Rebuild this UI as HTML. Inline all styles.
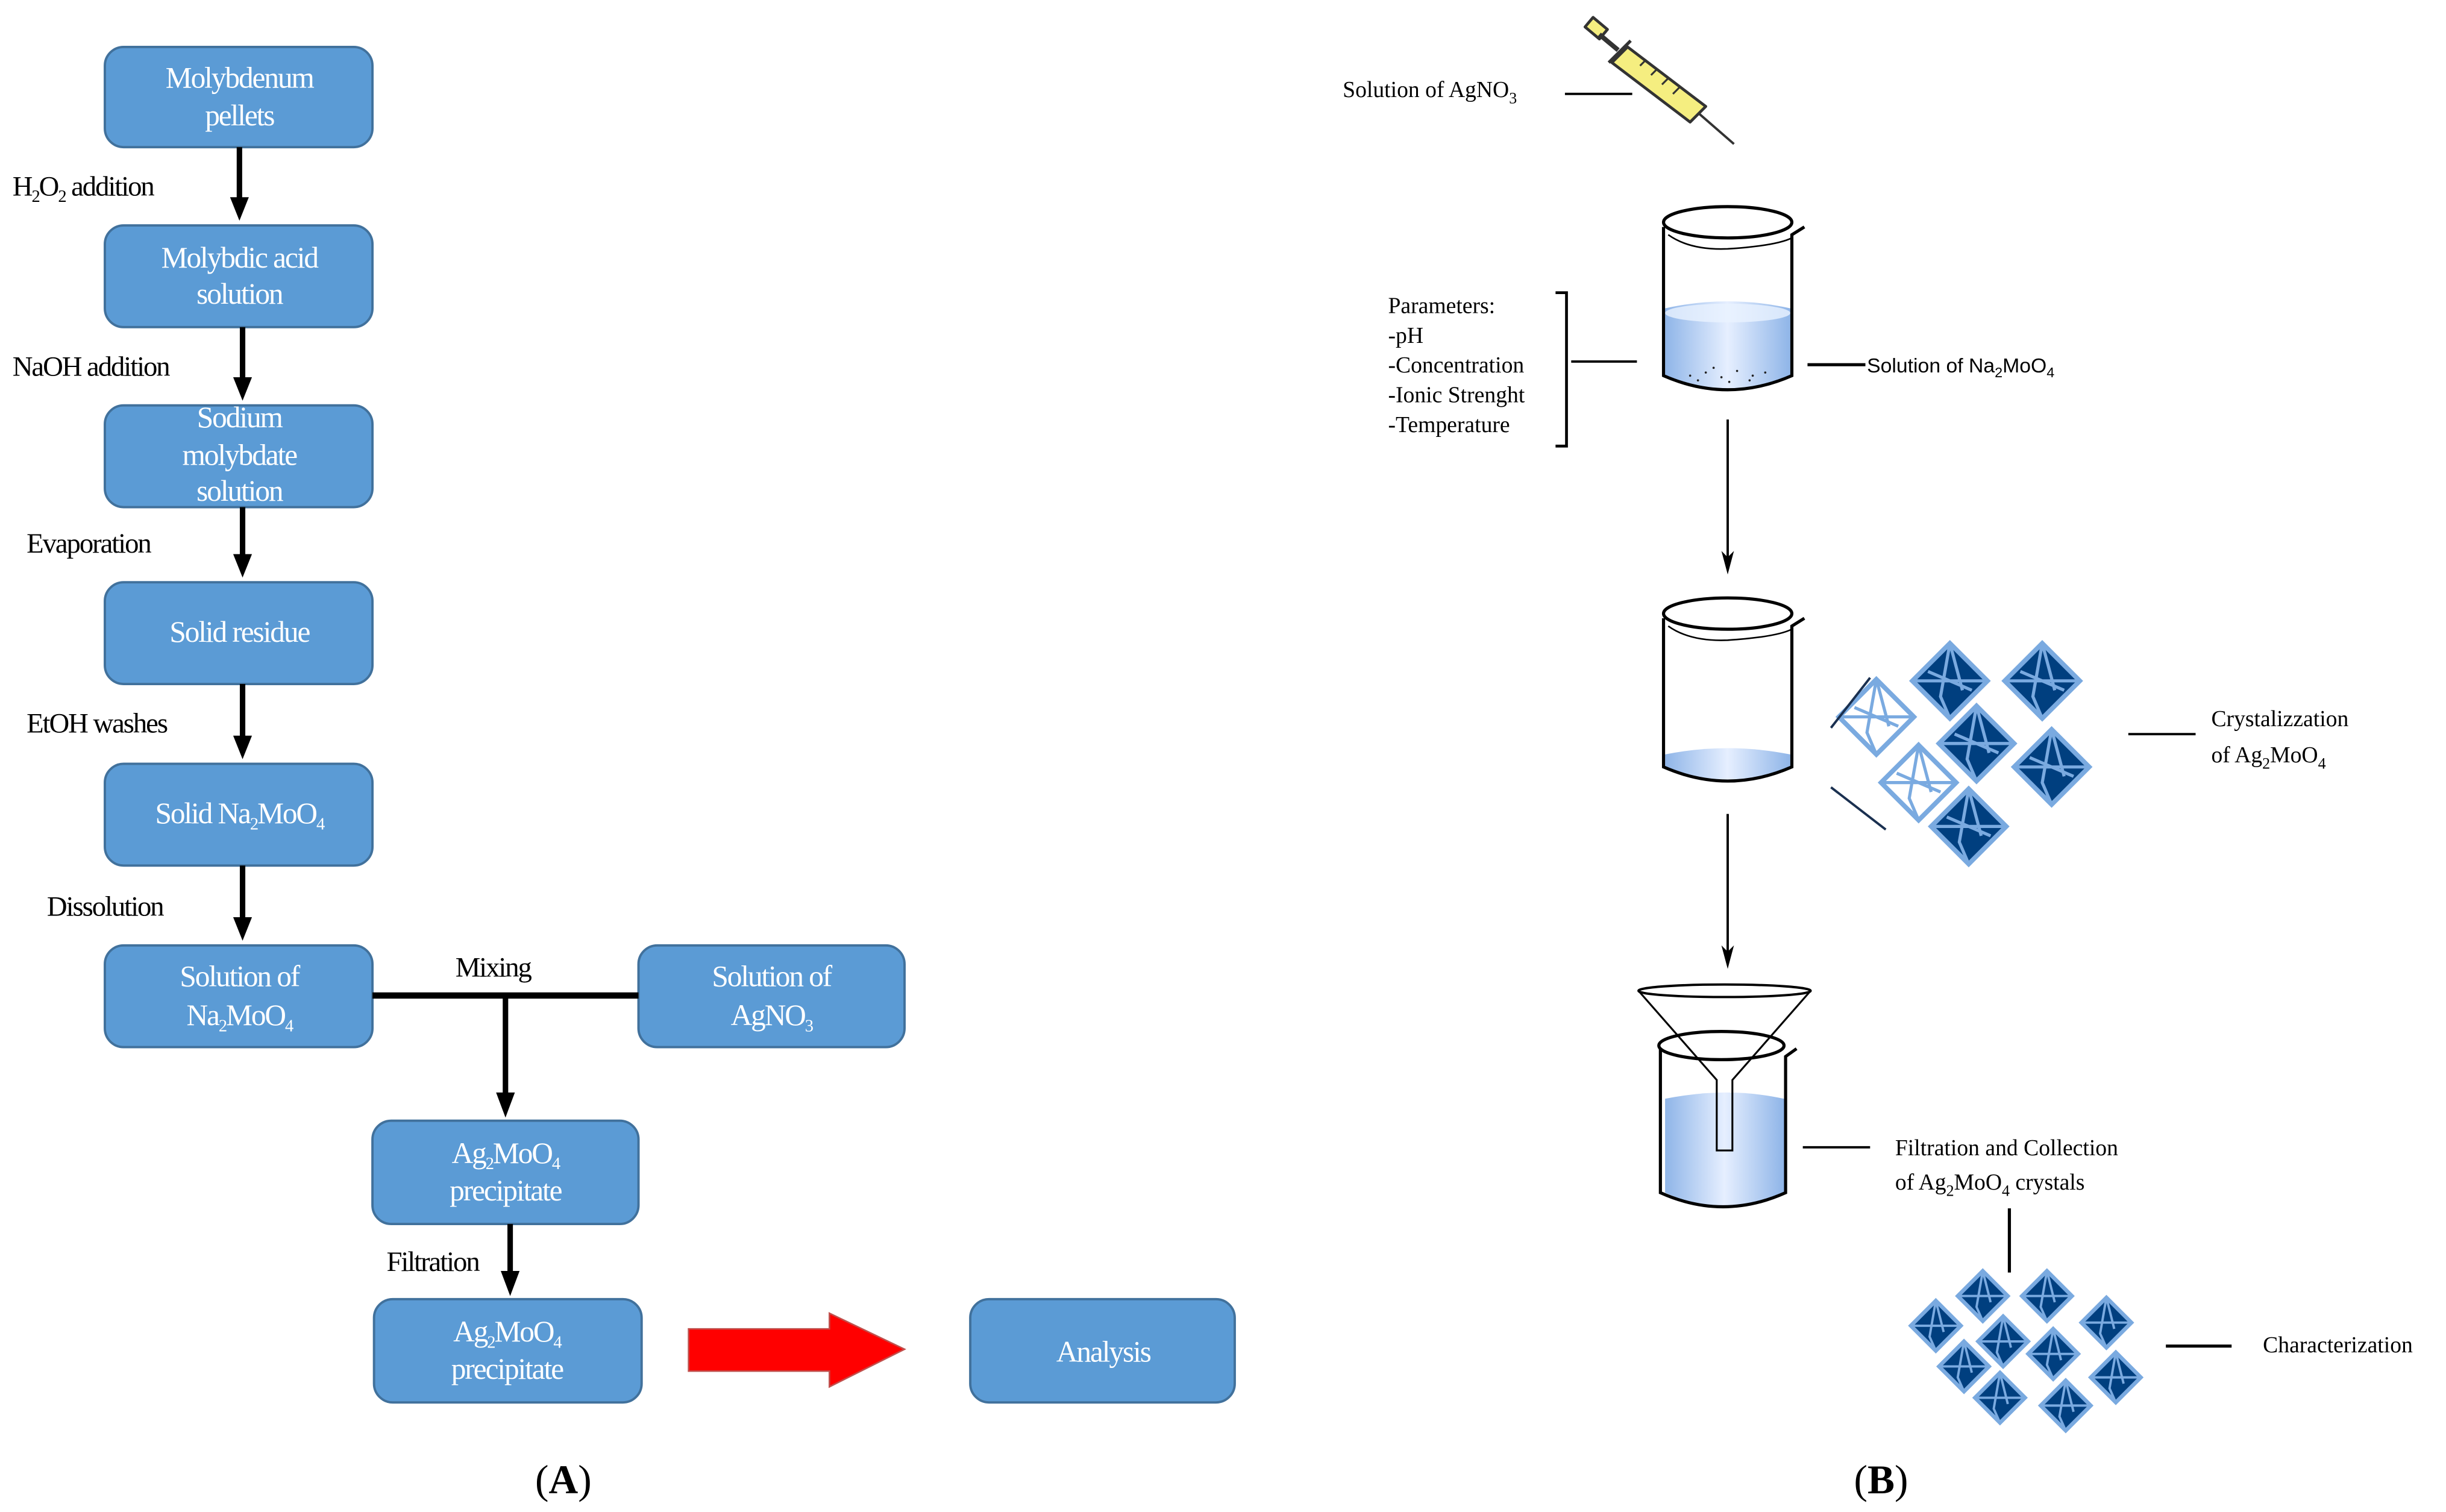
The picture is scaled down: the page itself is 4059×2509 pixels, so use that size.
<!DOCTYPE html>
<html><head><meta charset="utf-8"><style>
html,body{margin:0;padding:0;background:#fff;}
svg{display:block;}
.bt{font-family:"Liberation Serif",serif;font-size:19px;fill:#fff;text-anchor:middle;letter-spacing:-0.8px;}
.lb{font-family:"Liberation Serif",serif;font-size:18px;fill:#000;letter-spacing:-0.8px;}
.rt{font-family:"Liberation Serif",serif;font-size:14.5px;fill:#000;}
.st{font-family:"Liberation Sans",sans-serif;font-size:13px;fill:#000;}
</style></head><body>
<svg width="4059" height="2509" viewBox="0 0 1563 966" preserveAspectRatio="none" xmlns="http://www.w3.org/2000/svg">
<defs>
<linearGradient id="liq" x1="0" y1="0" x2="1" y2="0"><stop offset="0" stop-color="#8fb5e8"/><stop offset="0.5" stop-color="#e6efff"/><stop offset="1" stop-color="#8fb5e8"/></linearGradient>
<g id="cd"><polygon points="0,-24 24,0 0,24 -24,0" fill="#003f7f" stroke="#7aaae0" stroke-width="3"/><path d="M-24,0 L24,0 M0,-24 L-6,10 L0,24 M0,-24 L8,6 M-14,-6 L14,6" stroke="#7aaae0" stroke-width="2" fill="none"/></g>
<g id="cl"><polygon points="0,-24 24,0 0,24 -24,0" fill="#fff" stroke="#7aaae0" stroke-width="3"/><path d="M-24,0 L24,0 M0,-24 L-6,10 L0,24 M0,-24 L8,6 M-14,-6 L14,6" stroke="#7aaae0" stroke-width="2" fill="none"/></g>
<g id="cs"><polygon points="0,-16 16,0 0,16 -16,0" fill="#003f7f" stroke="#7aaae0" stroke-width="2.5"/><path d="M-16,0 L16,0 M0,-16 L-4,7 L0,16 M0,-16 L5,4" stroke="#7aaae0" stroke-width="1.5" fill="none"/></g>
</defs>

<!-- (A) flowchart -->
<g fill="#5b9bd5" stroke="#41719c" stroke-width="1.5">
<rect x="67" y="30" width="171" height="64" rx="12"/>
<rect x="67" y="144" width="171" height="65" rx="12"/>
<rect x="67" y="259" width="171" height="65" rx="12"/>
<rect x="67" y="372" width="171" height="65" rx="12"/>
<rect x="67" y="488" width="171" height="65" rx="12"/>
<rect x="67" y="604" width="171" height="65" rx="12"/>
<rect x="408" y="604" width="170" height="65" rx="12"/>
<rect x="238" y="716" width="170" height="66" rx="12"/>
<rect x="239" y="830" width="171" height="66" rx="12"/>
<rect x="620" y="830" width="169" height="66" rx="12"/>
</g>
<text class="bt" x="153" y="56">Molybdenum</text><text class="bt" x="153" y="80">pellets</text>
<text class="bt" x="153" y="171">Molybdic acid</text><text class="bt" x="153" y="194">solution</text>
<text class="bt" x="153" y="273">Sodium</text><text class="bt" x="153" y="297">molybdate</text><text class="bt" x="153" y="320">solution</text>
<text class="bt" x="153" y="410">Solid residue</text>
<text class="bt" x="153" y="526">Solid Na<tspan font-size="11" dy="4">2</tspan><tspan dy="-4">MoO</tspan><tspan font-size="11" dy="4">4</tspan></text>
<text class="bt" x="153" y="630">Solution of</text><text class="bt" x="153" y="655">Na<tspan font-size="11" dy="4">2</tspan><tspan dy="-4">MoO</tspan><tspan font-size="11" dy="4">4</tspan></text>
<text class="bt" x="493" y="630">Solution of</text><text class="bt" x="493" y="655">AgNO<tspan font-size="11" dy="4">3</tspan></text>
<text class="bt" x="323" y="743">Ag<tspan font-size="11" dy="4">2</tspan><tspan dy="-4">MoO</tspan><tspan font-size="11" dy="4">4</tspan></text><text class="bt" x="323" y="767">precipitate</text>
<text class="bt" x="324" y="857">Ag<tspan font-size="11" dy="4">2</tspan><tspan dy="-4">MoO</tspan><tspan font-size="11" dy="4">4</tspan></text><text class="bt" x="324" y="881">precipitate</text>
<text class="bt" x="705" y="870">Analysis</text>

<g stroke="#000" stroke-width="3.5" fill="none">
<line x1="153" y1="94" x2="153" y2="128"/>
<line x1="155" y1="209" x2="155" y2="243"/>
<line x1="155" y1="324" x2="155" y2="356"/>
<line x1="155" y1="437" x2="155" y2="472"/>
<line x1="155" y1="553" x2="155" y2="588"/>
<line x1="238" y1="636" x2="408" y2="636" stroke-width="4"/>
<line x1="323" y1="636" x2="323" y2="700"/>
<line x1="326" y1="782" x2="326" y2="814"/>
</g>
<g fill="#000">
<polygon points="147,126 159,126 153,141"/>
<polygon points="149,241 161,241 155,256"/>
<polygon points="149,354 161,354 155,369"/>
<polygon points="149,470 161,470 155,485"/>
<polygon points="149,586 161,586 155,601"/>
<polygon points="317,698 329,698 323,714"/>
<polygon points="320,812 332,812 326,828"/>
</g>
<polygon points="440,849 530,849 530,839 578,862 530,886 530,876 440,876" fill="#ff0000" stroke="#c0504d" stroke-width="1"/>

<text class="lb" x="8" y="125">H<tspan font-size="11" dy="4">2</tspan><tspan dy="-4">O</tspan><tspan font-size="11" dy="4">2</tspan><tspan dy="-4"> addition</tspan></text>
<text class="lb" x="8" y="240">NaOH addition</text>
<text class="lb" x="17" y="353">Evaporation</text>
<text class="lb" x="17" y="468">EtOH washes</text>
<text class="lb" x="30" y="585">Dissolution</text>
<text class="lb" x="291" y="624">Mixing</text>
<text class="lb" x="247" y="812">Filtration</text>

<text x="360" y="954" font-family="Liberation Serif,serif" font-size="26" text-anchor="middle">(<tspan font-weight="bold">A</tspan>)</text>
<text x="1202" y="954" font-family="Liberation Serif,serif" font-size="26" text-anchor="middle">(<tspan font-weight="bold">B</tspan>)</text>

<!-- (B) -->
<g stroke="#333" stroke-width="1.8" stroke-linejoin="round">
<line x1="1085" y1="72" x2="1108" y2="92" stroke-width="1.5"/>
<polygon points="1040,30 1090,68 1080,78 1030,40" fill="#f5ee80"/>
<rect x="1014" y="14" width="12" height="8" transform="rotate(40 1020 18)" fill="#f5ee80"/>
<line x1="1022" y1="22" x2="1034" y2="32" stroke-width="3"/>
<line x1="1028" y1="40" x2="1042" y2="26" stroke-width="2"/>
</g>
<g stroke="#333" stroke-width="1.2"><line x1="1048" y1="42" x2="1052" y2="38"/><line x1="1055" y1="48" x2="1059" y2="44"/><line x1="1062" y1="54" x2="1066" y2="50"/><line x1="1069" y1="60" x2="1073" y2="56"/></g>
<text class="rt" x="858" y="62">Solution of AgNO<tspan font-size="10" dy="4">3</tspan></text>
<line x1="1000" y1="60" x2="1043" y2="60" stroke="#000" stroke-width="1.5"/>

<!-- beaker 1 -->
<path d="M1064,197 L1064,240 Q1104,258 1144,240 L1144,197 Q1104,188 1064,197 Z" fill="url(#liq)"/>
<ellipse cx="1104" cy="200" rx="40" ry="6" fill="#eaf2ff" opacity="0.8"/>
<g fill="#222"><circle cx="1080" cy="240" r="0.7"/><circle cx="1090" cy="238" r="0.7"/><circle cx="1100" cy="241" r="0.7"/><circle cx="1110" cy="237" r="0.7"/><circle cx="1120" cy="240" r="0.7"/><circle cx="1128" cy="238" r="0.7"/><circle cx="1085" cy="243" r="0.7"/><circle cx="1105" cy="244" r="0.7"/><circle cx="1118" cy="243" r="0.7"/><circle cx="1095" cy="235" r="0.7"/></g>
<g fill="none" stroke="#000" stroke-width="2">
<path d="M1063,145 L1063,240 Q1104,258 1145,240 L1145,150 L1153,145"/>
<ellipse cx="1104" cy="142" rx="41" ry="10"/>
<path d="M1066,150 Q1080,160 1104,159 Q1135,157 1145,152" stroke-width="1"/>
</g>
<text class="rt" x="887" y="200">Parameters:</text>
<text class="rt" x="887" y="219">-pH</text>
<text class="rt" x="887" y="238">-Concentration</text>
<text class="rt" x="887" y="257">-Ionic Strenght</text>
<text class="rt" x="887" y="276">-Temperature</text>
<path d="M994,187 L1001,187 L1001,285 L994,285" fill="none" stroke="#000" stroke-width="1.8"/>
<line x1="1004" y1="231" x2="1046" y2="231" stroke="#000" stroke-width="1.5"/>
<line x1="1155" y1="233" x2="1192" y2="233" stroke="#000" stroke-width="2"/>
<text class="st" x="1193" y="238">Solution of Na<tspan font-size="9" dy="3">2</tspan><tspan dy="-3">MoO</tspan><tspan font-size="9" dy="3">4</tspan></text>
<line x1="1104" y1="268" x2="1104" y2="356" stroke="#000" stroke-width="1.5"/>
<polygon points="1100,352 1104,356 1108,352 1104,367" fill="#000"/>

<!-- beaker 2 -->
<path d="M1064,482 L1064,490 Q1104,506 1144,490 L1144,482 Q1104,474 1064,482 Z" fill="url(#liq)"/>
<g fill="none" stroke="#000" stroke-width="2">
<path d="M1063,395 L1063,490 Q1104,508 1145,490 L1145,400 L1153,395"/>
<ellipse cx="1104" cy="392" rx="41" ry="10"/>
<path d="M1066,400 Q1080,410 1104,409 Q1135,407 1145,402" stroke-width="1"/>
</g>
<use href="#cd" x="1246" y="435"/><use href="#cd" x="1305" y="435"/><use href="#cd" x="1263" y="475"/>
<use href="#cd" x="1311" y="490"/><use href="#cd" x="1258" y="528"/>
<use href="#cl" x="1199" y="458"/><use href="#cl" x="1226" y="500"/>
<line x1="1170" y1="465" x2="1195" y2="433" stroke="#1a3050" stroke-width="1.5"/>
<line x1="1170" y1="503" x2="1205" y2="530" stroke="#1a3050" stroke-width="1.5"/>
<line x1="1360" y1="469" x2="1403" y2="469" stroke="#000" stroke-width="1.5"/>
<text class="rt" x="1413" y="464">Crystalizzation</text>
<text class="rt" x="1413" y="487">of Ag<tspan font-size="10" dy="4">2</tspan><tspan dy="-4">MoO</tspan><tspan font-size="10" dy="4">4</tspan></text>
<line x1="1104" y1="520" x2="1104" y2="608" stroke="#000" stroke-width="1.5"/>
<polygon points="1100,604 1104,608 1108,604 1104,619" fill="#000"/>

<!-- funnel + beaker 3 -->
<path d="M1064,702 L1064,762 Q1104,780 1140,762 L1140,702 Q1104,694 1064,702 Z" fill="url(#liq)"/>
<g fill="none" stroke="#000" stroke-width="2">
<path d="M1061,670 L1061,762 Q1101,780 1141,762 L1141,675 L1148,670"/>
<ellipse cx="1100" cy="668" rx="40" ry="9"/>
</g>
<ellipse cx="1102" cy="633" rx="55" ry="4" fill="#fff" stroke="#000" stroke-width="1.5"/>
<path d="M1047,633 L1097,690 L1097,735 L1107,735 L1107,690 L1157,633" fill="none" stroke="#000" stroke-width="1.2"/>
<line x1="1152" y1="733" x2="1195" y2="733" stroke="#000" stroke-width="1.5"/>
<text class="rt" x="1211" y="738">Filtration and Collection</text>
<text class="rt" x="1211" y="760">of Ag<tspan font-size="10" dy="4">2</tspan><tspan dy="-4">MoO</tspan><tspan font-size="10" dy="4">4</tspan><tspan dy="-4"> crystals</tspan></text>
<line x1="1284" y1="772" x2="1284" y2="813" stroke="#000" stroke-width="2"/>
<use href="#cs" x="1237" y="847"/><use href="#cs" x="1267" y="828"/><use href="#cs" x="1308" y="828"/>
<use href="#cs" x="1346" y="845"/><use href="#cs" x="1280" y="857"/><use href="#cs" x="1255" y="873"/>
<use href="#cs" x="1312" y="865"/><use href="#cs" x="1352" y="880"/><use href="#cs" x="1278" y="893"/>
<use href="#cs" x="1320" y="898"/>
<line x1="1384" y1="860" x2="1426" y2="860" stroke="#000" stroke-width="2"/>
<text class="rt" x="1446" y="864">Characterization</text>
</svg>
</body></html>
